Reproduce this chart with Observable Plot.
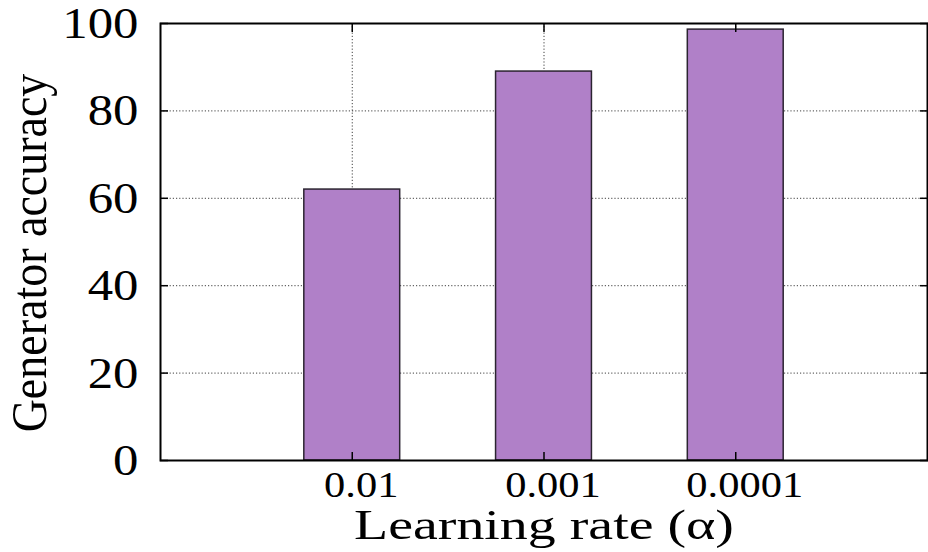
<!DOCTYPE html>
<html>
<head>
<meta charset="utf-8">
<script src="https://cdn.jsdelivr.net/npm/d3@7"></script>
<script src="https://cdn.jsdelivr.net/npm/@observablehq/plot@0.6"></script>
<style>
  html, body { margin: 0; padding: 0; background: #fff; }
  #chart { width: 928px; height: 552px; }
  svg { font-family: "Liberation Serif", "Times New Roman", serif; }
</style>
</head>
<body>
<div id="chart"></div>
<script>
// Data
const categories = ["0.01", "0.001", "0.0001"];
const positions = [1, 2, 3];
const values = [62, 89, 98.6];
const yTicks = [0, 20, 40, 60, 80, 100];
const yGrid = [20, 40, 60, 80];
const xLabel = "Learning rate (\u03b1)";
const yLabel = "Generator accuracy";

const data = categories.map((c, i) => ({label: c, pos: positions[i], value: values[i]}));
const barHalf = 0.25;

const chart = Plot.plot({
  width: 928,
  height: 552,
  marginLeft: 160,
  marginRight: 1,
  marginTop: 23,
  marginBottom: 92,
  style: {fontFamily: "'Liberation Serif', 'Times New Roman', serif", background: "#fff", color: "#000", overflow: "visible"},
  x: {domain: [0, 4], axis: null},
  y: {domain: [0, 100], axis: null},
  marks: [
    Plot.gridY(yGrid, {stroke: "#000", strokeOpacity: 0.75, strokeDasharray: "1.2,2", strokeWidth: 1}),
    Plot.gridX(positions, {stroke: "#000", strokeOpacity: 0.75, strokeDasharray: "1.2,2", strokeWidth: 1}),
    Plot.rectY(data, {x1: d => d.pos - barHalf, x2: d => d.pos + barHalf, y: "value", fill: "#b080c8", stroke: "#2b2430", strokeWidth: 1.5}),
    // inward tick marks
    Plot.axisY(yTicks, {anchor: "left", tickSize: -8, tickFormat: () => "", label: null, strokeWidth: 1.5}),
    Plot.axisY(yTicks, {anchor: "right", tickSize: -8, tickFormat: () => "", label: null, strokeWidth: 1.5}),
    Plot.axisX(positions, {anchor: "top", tickSize: -8, tickFormat: () => "", label: null, strokeWidth: 1.5}),
    Plot.axisX(positions, {anchor: "bottom", tickSize: -8, tickFormat: () => "", label: null, strokeWidth: 1.5}),
    // tick labels
    Plot.axisY(yTicks, {anchor: "left", tickSize: 0, tickPadding: 22, fontSize: 45, label: null, fill: "#000"}),
    Plot.axisX(positions, {anchor: "bottom", tickSize: 0, tickPadding: 11, dx: 9, fontSize: 36, label: null, fill: "#000",
      tickFormat: (d) => categories[positions.indexOf(d)]}),
    Plot.frame({stroke: "#000", strokeWidth: 2}),
    // axis titles
    Plot.text([xLabel], {frameAnchor: "bottom", dy: 78, lineAnchor: "bottom", fontSize: 43, fill: "#000"}),
    Plot.text([yLabel], {frameAnchor: "left", dx: -131, dy: 11, rotate: -90, textAnchor: "middle", lineAnchor: "middle", fontSize: 46, fill: "#000"})
  ]
});
document.getElementById("chart").appendChild(chart);

// The reference's lettering is horizontally widened; widen each text around its anchor.
const svgns = "http://www.w3.org/2000/svg";
function widen(el, s) {
  const g = document.createElementNS(svgns, "g");
  el.parentNode.insertBefore(g, el);
  g.appendChild(el);
  const bb = g.getBBox();
  const anchor = getComputedStyle(el).textAnchor;
  const ax = anchor === "end" ? bb.x + bb.width : anchor === "start" ? bb.x : bb.x + bb.width / 2;
  g.setAttribute("transform", `translate(${ax},0) scale(${s},1) translate(${-ax},0)`);
}
chart.querySelectorAll("text").forEach((el) => {
  const t = el.textContent;
  if (t === xLabel) widen(el, 1.3);
  else if (t === yLabel) widen(el, 1.1);
  else if (categories.includes(t)) widen(el, 1.18);
  else if (t !== "") widen(el, 1.13);
});
</script>
</body>
</html>
